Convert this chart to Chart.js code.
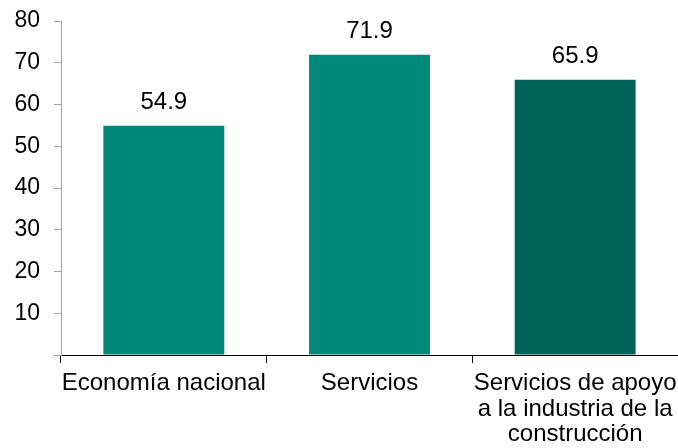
<!DOCTYPE html>
<html>
<head>
<meta charset="utf-8">
<script src="https://cdn.jsdelivr.net/npm/chart.js@4"></script>
<style>
html,body{margin:0;padding:0;background:#fff;}
#wrap{width:678px;height:448px;position:relative;}
</style>
</head>
<body>
<div id="wrap"><canvas id="c" width="678" height="448"></canvas></div>
<script>
const categories = [
  ["Economía nacional"],
  ["Servicios"],
  ["Servicios de apoyo", "a la industria de la", "construcción"]
];
const values = [54.9, 71.9, 65.9];
const barColors = ["#00897B", "#00897B", "#00635A"];
const yTicks = [0, 10, 20, 30, 40, 50, 60, 70, 80];

const FONT = "'Liberation Sans', Arial, sans-serif";

const valueLabels = {
  id: 'valueLabels',
  afterDatasetsDraw(chart) {
    const ctx = chart.ctx;
    const meta = chart.getDatasetMeta(0);
    ctx.save();
    ctx.font = "24px " + FONT;
    ctx.fillStyle = "#000";
    ctx.textAlign = "center";
    ctx.textBaseline = "alphabetic";
    meta.data.forEach((bar, i) => {
      ctx.fillText(values[i].toFixed(1), bar.x, bar.y - 17);
    });
    ctx.restore();
  }
};

new Chart(document.getElementById('c'), {
  type: 'bar',
  data: {
    labels: categories,
    datasets: [{
      data: values,
      backgroundColor: barColors,
      borderWidth: 0,
      categoryPercentage: 1,
      barPercentage: 0.588
    }]
  },
  options: {
    responsive: false,
    animation: false,
    devicePixelRatio: 1,
    layout: { padding: { top: 21, right: 0, left: 0, bottom: 0 } },
    plugins: { legend: { display: false }, tooltip: { enabled: false } },
    scales: {
      x: {
        grid: {
          display: true,
          drawOnChartArea: false,
          drawTicks: true,
          tickLength: 8,
          color: '#000',
          offset: true
        },
        border: { display: true, color: '#000', width: 1 },
        ticks: {
          color: '#000',
          font: { size: 24, family: FONT, lineHeight: 1.08 },
          padding: 7,
          maxRotation: 0,
          autoSkip: false
        },
        afterFit(scale) {
          scale.height = 93;
          scale.paddingLeft = 0; scale.paddingRight = 0;
        }
      },
      y: {
        min: 0,
        max: 80,
        afterBuildTicks(scale) { scale.ticks = yTicks.map(v => ({ value: v })); },
        grid: {
          display: true,
          drawOnChartArea: false,
          drawTicks: true,
          tickLength: 7,
          color: '#A6A6A6'
        },
        border: { display: true, color: '#A6A6A6', width: 1 },
        ticks: {
          color: '#000',
          font: { size: 23, family: FONT },
          padding: 14,
          callback: (v) => v === 0 ? '' : String(v)
        },
        afterFit(scale) {
          scale.width = 61;
          scale.paddingTop = 0; scale.paddingBottom = 0;
        }
      }
    }
  },
  plugins: [valueLabels, {
    id: 'bg',
    beforeDraw(chart) {
      const ctx = chart.ctx;
      ctx.save();
      ctx.fillStyle = '#fff';
      ctx.fillRect(0, 0, chart.width, chart.height);
      ctx.restore();
    }
  }]
});
</script>
</body>
</html>
